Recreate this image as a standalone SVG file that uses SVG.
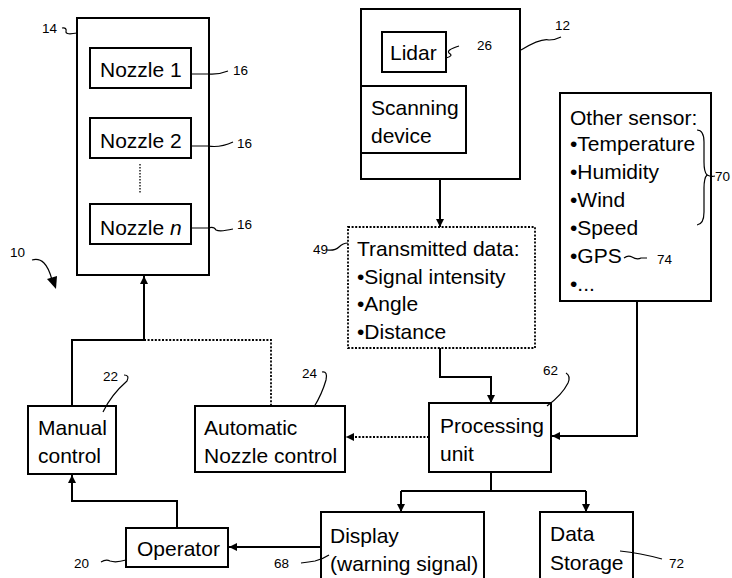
<svg xmlns="http://www.w3.org/2000/svg" width="732" height="578" viewBox="0 0 732 578">
<style>
.box{fill:#fff;stroke:#000;stroke-width:2}
.dbox{fill:#fff;stroke:#000;stroke-width:1.8;stroke-dasharray:2,1.6}
.t{font-family:"Liberation Sans",Arial,sans-serif;font-size:21px;fill:#000}
.l{font-family:"Liberation Sans Narrow","Liberation Sans",Arial,sans-serif;font-size:13.5px;fill:#000}
.c{fill:none;stroke:#000;stroke-width:2}
.d{fill:none;stroke:#000;stroke-width:1.8;stroke-dasharray:2,1.6}
.ld{fill:none;stroke:#000;stroke-width:1.2}
</style>
<defs>
<marker id="ah" markerUnits="userSpaceOnUse" markerWidth="10" markerHeight="10" refX="8" refY="4" orient="auto">
<path d="M0,0 L8,4 L0,8 z" fill="#000"/>
</marker>
</defs>
<rect width="732" height="578" fill="#fff"/>

<g id="nozzles">
<rect class="box" x="77" y="18" width="132" height="257"/>
<text class="l" x="42" y="33">14</text>
<path class="ld" d="M62,28 q5,-1 4,4 q0,3 11,1"/>
</g>
<g id="nozzle1">
<rect class="box" x="90" y="48" width="101" height="40"/>
<text class="t" x="100" y="77">Nozzle 1</text>
</g>
<g id="nozzle2">
<rect class="box" x="90" y="118" width="101" height="40"/>
<text class="t" x="100" y="148">Nozzle 2</text>
</g>
<path d="M140,164 V193" stroke="#000" stroke-width="1.3" stroke-dasharray="1.5,1.5"/>
<g id="nozzlen">
<rect class="box" x="90" y="204" width="101" height="40"/>
<text class="t" x="100" y="235">Nozzle <tspan font-style="italic">n</tspan></text>
</g>
<g id="labels16">
<path class="ld" d="M192,74 H208 q10,1 20,-3"/>
<text class="l" x="233" y="75">16</text>
<path class="ld" d="M192,146 H208 q12,2 25,-4"/>
<text class="l" x="237" y="148">16</text>
<path class="ld" d="M192,228 H208 q6,-2 8,2 q4,2 17,-1"/>
<text class="l" x="237" y="229">16</text>
</g>
<g id="label10">
<text class="l" x="10" y="257">10</text>
<path class="ld" d="M32,260 q14,-4 20,20"/>
<path d="M47,279 L56,289 L57,276 z" fill="#000"/>
</g>

<g id="lidarunit">
<rect class="box" x="361" y="9" width="159" height="170"/>
<path class="ld" d="M521,50 q20,-12 28,-10 q6,0 12,-3"/>
<text class="l" x="555" y="30">12</text>
</g>
<g id="lidar">
<rect class="box" x="382" y="32" width="64" height="40"/>
<text class="t" x="390" y="60">Lidar</text>
<path class="ld" d="M446,58 q8,-2 3,-5 q-3,-3 10,-7"/>
<text class="l" x="477" y="50">26</text>
</g>
<g id="scanning">
<rect class="box" x="361" y="86" width="105" height="67"/>
<text class="t" x="371" y="115">Scanning</text>
<text class="t" x="371" y="143">device</text>
</g>

<g id="transmitted">
<rect class="dbox" x="348" y="227" width="187" height="121"/>
<text class="t" x="357" y="256">Transmitted data:</text>
<text class="t" x="357" y="284">•Signal intensity</text>
<text class="t" x="357" y="311">•Angle</text>
<text class="t" x="357" y="339">•Distance</text>
<text class="l" x="313" y="254">49</text>
<path class="ld" d="M327,250 q8,1 12,-3 q4,-4 9,-4"/>
</g>

<g id="othersensor">
<rect class="box" x="560" y="93" width="151" height="208"/>
<text class="t" x="570" y="125">Other sensor:</text>
<text class="t" x="570" y="151">•Temperature</text>
<text class="t" x="570" y="179">•Humidity</text>
<text class="t" x="570" y="207">•Wind</text>
<text class="t" x="570" y="235">•Speed</text>
<text class="t" x="570" y="263">•GPS</text>
<text class="t" x="570" y="291">•...</text>
<path class="ld" d="M697,130 q7,0 7,12 v20 q0,10 3,13 q-3,3 -3,13 v24 q0,12 -7,13"/>
<path class="ld" d="M707,175 q4,2 8,1"/>
<text class="l" x="715" y="181">70</text>
<path class="ld" d="M624,258 q4,-3 8,-1 q5,3 9,1 h6"/>
<text class="l" x="657" y="264">74</text>
</g>

<g id="processing">
<rect class="box" x="429" y="403" width="122" height="69"/>
<text class="t" x="440" y="433">Processing</text>
<text class="t" x="440" y="461">unit</text>
<text class="l" x="543" y="375">62</text>
<path class="ld" d="M566,373 q5,3 2,10 q-6,12 -21,23"/>
</g>

<g id="manual">
<rect class="box" x="28" y="406" width="88" height="68"/>
<text class="t" x="38" y="435">Manual</text>
<text class="t" x="38" y="463">control</text>
<text class="l" x="103" y="381">22</text>
<path class="ld" d="M124,375 q6,0 3,6 q-16,14 -24,31"/>
</g>

<g id="automatic">
<rect class="box" x="195" y="406" width="150" height="66"/>
<text class="t" x="204" y="435">Automatic</text>
<text class="t" x="204" y="463">Nozzle control</text>
<text class="l" x="302" y="378">24</text>
<path class="ld" d="M322,372 q6,-1 4,8 q-4,14 -12,27"/>
</g>

<g id="operator">
<rect class="box" x="126" y="528" width="102" height="39"/>
<text class="t" x="137" y="556">Operator</text>
<text class="l" x="74" y="568">20</text>
<path class="ld" d="M101,562 q5,-3 9,-1 q6,2 16,-1"/>
</g>

<g id="display">
<rect class="box" x="321" y="512" width="163" height="70"/>
<text class="t" x="330" y="543">Display</text>
<text class="t" x="330" y="571">(warning signal)</text>
<text class="l" x="274" y="568">68</text>
<path class="ld" d="M301,563 q8,-1 14,-2 q8,-2 14,-6"/>
</g>

<g id="storage">
<rect class="box" x="540" y="512" width="93" height="70"/>
<text class="t" x="550" y="541">Data</text>
<text class="t" x="550" y="570">Storage</text>
<text class="l" x="669" y="568">72</text>
<path class="ld" d="M620,551 q20,2 42,8"/>
</g>

<g id="connectors">
<path class="c" d="M72,406 V340 H144 V276" marker-end="url(#ah)"/>
<path class="d" d="M144,340 H271 V406"/>
<path class="c" d="M177,528 V501 H72 V475" marker-end="url(#ah)"/>
<path class="c" d="M321,547 H229" marker-end="url(#ah)"/>
<path class="c" d="M440,179 V227" marker-end="url(#ah)"/>
<path class="c" d="M440,348 V377 H491 V403" marker-end="url(#ah)"/>
<path class="c" d="M637,301 V436 H552" marker-end="url(#ah)"/>
<path class="d" d="M429,437 H346" marker-end="url(#ah)"/>
<path class="c" d="M491,472 V491"/>
<path class="c" d="M401,491 H586"/>
<path class="c" d="M401,491 V512" marker-end="url(#ah)"/>
<path class="c" d="M586,491 V512" marker-end="url(#ah)"/>
</g>
</svg>
